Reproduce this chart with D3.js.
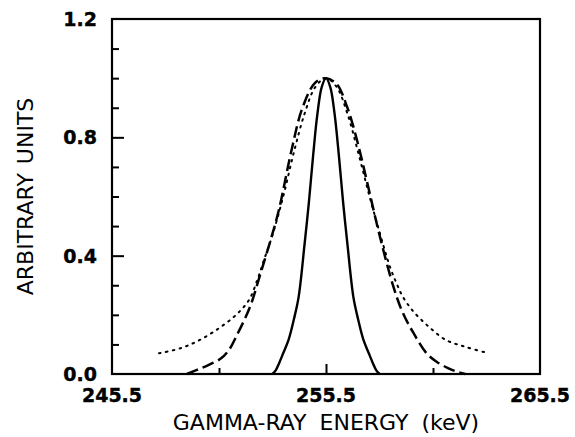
<!DOCTYPE html>
<html>
<head>
<meta charset="utf-8">
<script src="https://cdn.jsdelivr.net/npm/d3@7"></script>
<style>
  body { margin: 0; background: #fff; }
  svg { display: block; }
  .lbl { font-family: "DejaVu Sans", sans-serif; font-weight: bold; font-size: 19px; fill: #000; stroke: #000; stroke-width: 0.4; }
  .title { font-family: "DejaVu Sans", sans-serif; font-size: 22px; fill: #000; }
</style>
</head>
<body>
<div id="chart"></div>
<script>
// values (energy in keV, intensity in arbitrary units)
const solidEnergy = [253.0, 253.15, 253.3, 253.5, 253.75, 254.0, 254.22, 254.5, 254.7, 254.9, 255.1, 255.3, 255.5,
                     255.7, 255.9, 256.1, 256.3, 256.5, 256.78, 257.0, 257.25, 257.5, 257.7, 257.85, 258.0];
const solidValue  = [0.0, 0.012, 0.035, 0.07, 0.115, 0.185, 0.26, 0.44, 0.58, 0.74, 0.88, 0.97, 1.0,
                     0.97, 0.88, 0.74, 0.58, 0.44, 0.26, 0.185, 0.115, 0.07, 0.035, 0.012, 0.0];

const dashedEnergy = [249.0, 249.5, 250.0, 250.6, 251.0, 251.3, 251.95, 252.4, 252.9, 253.3, 253.9, 254.4, 255.0, 255.5,
                      256.0, 256.5, 256.95, 257.4, 258.0, 258.65, 259.1, 259.6, 260.2, 260.7, 261.2, 261.6, 262.0];
const dashedValue  = [0.0, 0.015, 0.03, 0.053, 0.085, 0.126, 0.227, 0.33, 0.45, 0.555, 0.76, 0.9, 0.985, 1.0,
                      0.98, 0.9, 0.79, 0.655, 0.47, 0.295, 0.205, 0.137, 0.07, 0.04, 0.02, 0.008, 0.0];

const dottedEnergy = [247.7, 248.7, 249.6, 250.5, 251.3, 251.9, 252.3, 252.6, 253.0, 253.5, 254.0, 254.5, 255.0, 255.5,
                      256.0, 256.5, 257.0, 257.5, 258.0, 258.5, 258.8, 259.1, 259.6, 260.3, 261.1, 262.0, 263.1];
const dottedValue  = [0.07, 0.087, 0.115, 0.155, 0.2, 0.25, 0.32, 0.385, 0.47, 0.6, 0.75, 0.88, 0.97, 1.0,
                      0.97, 0.88, 0.75, 0.61, 0.48, 0.36, 0.306, 0.26, 0.21, 0.16, 0.115, 0.092, 0.07];

const xLabelTicks = [245.5, 255.5, 265.5];
const xMinorTicks = [250.5, 260.5];
const yLabelTicks = [0.0, 0.4, 0.8, 1.2];
const yMinorTicks = [0.1, 0.2, 0.3, 0.5, 0.6, 0.7, 0.9, 1.0, 1.1];

const width = 575, height = 437;
const margin = { top: 19, right: 35, bottom: 63, left: 112 };

const svg = d3.select('#chart').append('svg')
    .attr('width', width)
    .attr('height', height);

const x = d3.scaleLinear().domain([245.5, 265.5]).range([margin.left, width - margin.right]);
const y = d3.scaleLinear().domain([0, 1.2]).range([height - margin.bottom, margin.top]);
const fmt = d3.format('.1f');

// Ticks (inward), labels drawn separately
svg.append('g')
    .attr('transform', `translate(0,${y(0)})`)
    .call(d3.axisBottom(x).tickValues([255.5]).tickFormat('').tickSizeInner(-10).tickSizeOuter(0))
    .call(g => g.select('.domain').remove());

svg.append('g')
    .attr('transform', `translate(0,${y(0)})`)
    .call(d3.axisBottom(x).tickValues(xMinorTicks).tickFormat('').tickSizeInner(-6).tickSizeOuter(0))
    .call(g => g.select('.domain').remove());

svg.append('g')
    .attr('transform', `translate(${x(245.5)},0)`)
    .call(d3.axisLeft(y).tickValues([0.4, 0.8]).tickFormat('').tickSizeInner(-12).tickSizeOuter(0))
    .call(g => g.select('.domain').remove());

svg.append('g')
    .attr('transform', `translate(${x(245.5)},0)`)
    .call(d3.axisLeft(y).tickValues(yMinorTicks).tickFormat('').tickSizeInner(-7).tickSizeOuter(0))
    .call(g => g.select('.domain').remove());

svg.selectAll('.tick line').attr('stroke', '#000').attr('stroke-width', 2);

svg.append('g').selectAll('text')
    .data(xLabelTicks)
    .join('text')
    .attr('class', 'lbl')
    .attr('x', d => x(d))
    .attr('y', y(0) + 28)
    .attr('text-anchor', 'middle')
    .text(fmt);

svg.append('g').selectAll('text')
    .data(yLabelTicks)
    .join('text')
    .attr('class', 'lbl')
    .attr('x', x(245.5) - 15)
    .attr('y', d => y(d) + 7)
    .attr('text-anchor', 'end')
    .text(fmt);

// Frame
svg.append('rect')
    .attr('x', x(245.5))
    .attr('y', y(1.2))
    .attr('width', x(265.5) - x(245.5))
    .attr('height', y(0) - y(1.2))
    .attr('fill', 'none')
    .attr('stroke', '#000')
    .attr('stroke-width', 2.2);

// Curves
const line = d3.line()
    .x(d => x(d[0]))
    .y(d => y(d[1]))
    .curve(d3.curveCatmullRom.alpha(0.5));

const series = [
    { e: dottedEnergy, v: dottedValue, dash: '1.6,5.4', w: 2, cap: 'round' },
    { e: dashedEnergy, v: dashedValue, dash: '12,5', w: 2.5, cap: 'butt' },
    { e: solidEnergy, v: solidValue, dash: null, w: 2.4, cap: 'butt' }
];

series.forEach(s => {
    svg.append('path')
        .datum(d3.zip(s.e, s.v))
        .attr('d', line)
        .attr('fill', 'none')
        .attr('stroke', '#000')
        .attr('stroke-width', s.w)
        .attr('stroke-linecap', s.cap)
        .attr('stroke-dasharray', s.dash);
});

// Axis titles
svg.append('text')
    .attr('class', 'title')
    .attr('x', x(255.5))
    .attr('y', 430)
    .attr('text-anchor', 'middle')
    .attr('word-spacing', 6)
    .text('GAMMA-RAY ENERGY (keV)');

svg.append('text')
    .attr('class', 'title')
    .attr('transform', `translate(33,${y(0.6)}) rotate(-90)`)
    .attr('text-anchor', 'middle')
    .attr('word-spacing', 2)
    .text('ARBITRARY UNITS');
</script>
</body>
</html>
